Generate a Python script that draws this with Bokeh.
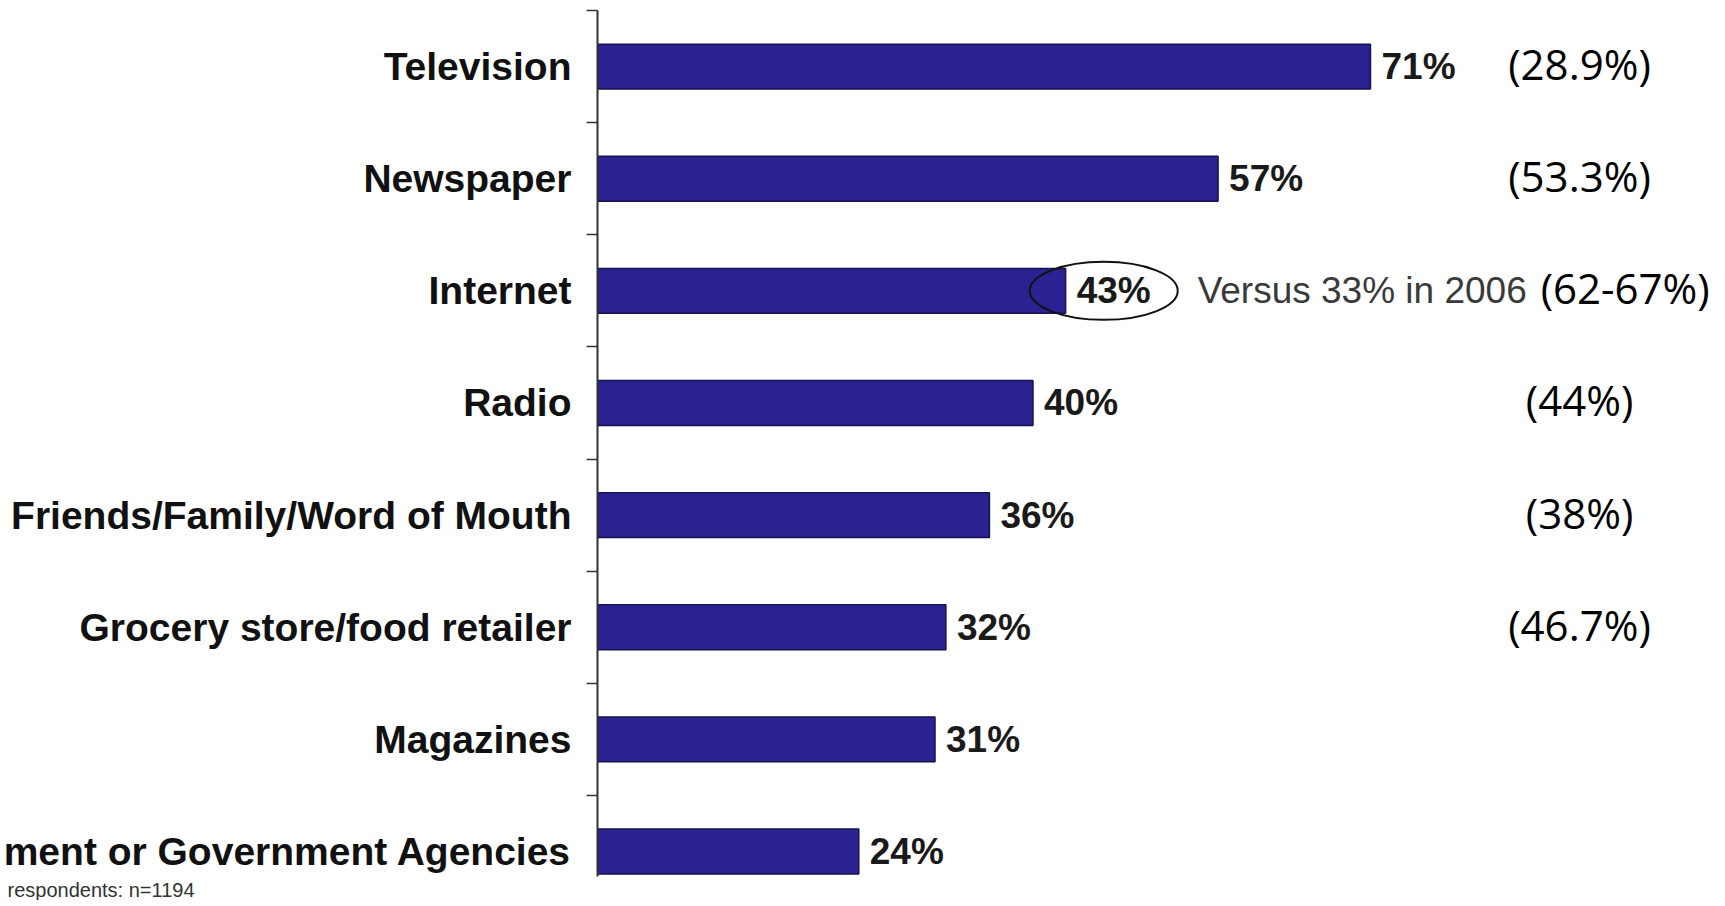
from bokeh.plotting import figure
from bokeh.models import ColumnDataSource, Range1d, FixedTicker, Title
from bokeh.core.properties import value
from bokeh.embed import file_html
from bokeh.resources import INLINE

# ---- data ----
categories = ["Television", "Newspaper", "Internet", "Radio",
              "Friends/Family/Word of Mouth", "Grocery store/food retailer",
              "Magazines", "ment or Government Agencies"]
percents = [71, 57, 43, 40, 36, 32, 31, 24]
other_source = ["(28.9%)", "(53.3%)", "(62-67%)", "(44%)", "(38%)", "(46.7%)", "", ""]
internet_2006 = 33
footnote = "respondents: n=1194"

idx = list(range(len(categories)))
src = ColumnDataSource(dict(
    y=idx, v=percents,
    lab=[f"{p}%" for p in percents],
))

FRAME_H = 866
p = figure(output_backend="svg", toolbar_location=None,
           frame_width=1117, frame_height=FRAME_H,
           x_range=Range1d(0, 102.6), y_range=Range1d(-0.5 + FRAME_H / 112.14, -0.5))
p.min_border_left = 592
p.min_border_right = 0
p.min_border_top = 10
p.min_border_bottom = 0
p.outline_line_color = None
p.background_fill_color = "white"
p.border_fill_color = "white"
p.xgrid.visible = False
p.ygrid.visible = False
p.xaxis.visible = False

# bars
p.hbar(y="y", right="v", left=0, height=0.4, source=src,
       fill_color="#2A2290", line_color="#16134F", line_width=1.5)

# value labels
p.text(x="v", y="y", text="lab", source=src, x_offset=11,
       text_align="left", text_baseline="middle",
       text_font=value("Liberation Sans"), text_font_style="bold",
       text_font_size="37px", text_color="#1a1a1a")

# y axis: labels at centres, ticks at boundaries
yax = p.yaxis[0]
yax.ticker = FixedTicker(ticks=idx, minor_ticks=[i - 0.5 for i in range(len(categories) + 1)])
yax.major_label_overrides = {i: c for i, c in enumerate(categories)}
yax.major_tick_in = 0
yax.major_tick_out = 0
yax.minor_tick_in = 0
yax.minor_tick_out = 11
yax.minor_tick_line_color = "#333333"
yax.minor_tick_line_width = 1.5
yax.axis_line_color = "#333333"
yax.axis_line_width = 2
yax.major_label_standoff = 15
yax.major_label_text_font = "Liberation Sans"
yax.major_label_text_font_style = "bold"
yax.major_label_text_font_size = "39px"
yax.major_label_text_color = "#111111"

# right-hand column of comparison figures
i_int = categories.index("Internet")
col_y = [i for i, s in enumerate(other_source) if s and i != i_int]
col_t = [other_source[i] for i in col_y]
p.text(x=[90.2] * len(col_y), y=col_y, text=col_t, y_offset=-3,
       text_align="center", text_baseline="middle",
       text_font=value("Open Sans"), text_font_size="42px", text_color="black")

# Internet annotation
v_int = percents[i_int]
p.ellipse(x=[v_int + 3.5], y=[i_int], width=148, height=58,
          width_units="screen", height_units="screen",
          fill_color=None, line_color="#111111", line_width=2)
p.text(x=[v_int], y=[i_int], text=[f"Versus {internet_2006}% in 2006"], x_offset=132,
       text_align="left", text_baseline="middle",
       text_font=value("Liberation Sans"), text_font_size="37px", text_color="#3a3a3a")
p.text(x=[v_int], y=[i_int], text=[other_source[i_int]], x_offset=475, y_offset=-3,
       text_align="left", text_baseline="middle",
       text_font=value("Open Sans"), text_font_size="42px", text_color="black")

# footnote at the bottom-left corner (below the plot area)
p.add_layout(Title(text=footnote, align="left", offset=-590, standoff=0,
                   text_font="Liberation Sans", text_font_size="20px",
                   text_font_style="normal", text_color="#333333"), "below")

open("out.html", "w").write(file_html(p, INLINE))
